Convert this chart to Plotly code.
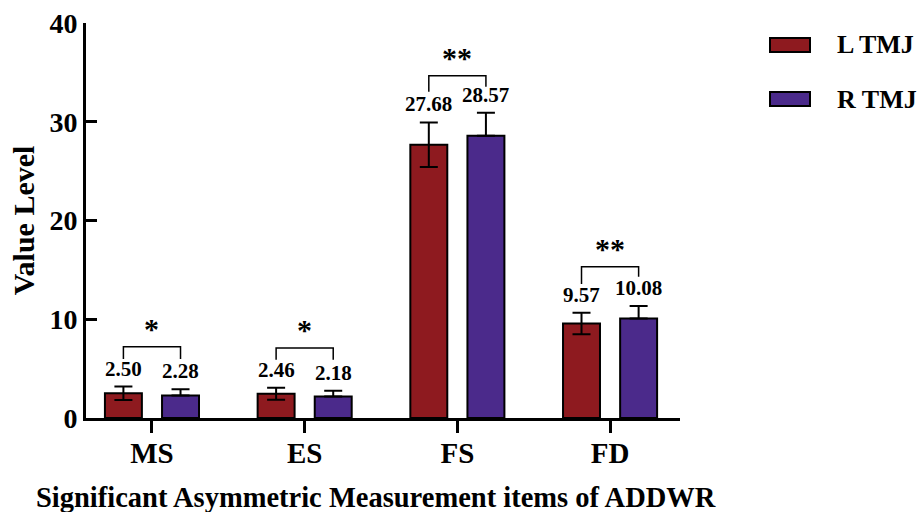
import plotly.graph_objects as go

categories = ["MS", "ES", "FS", "FD"]
l_tmj = [2.50, 2.46, 27.68, 9.57]
r_tmj = [2.28, 2.18, 28.57, 10.08]
l_err = [0.68, 0.60, 2.25, 1.10]
r_err = [0.63, 0.58, 2.35, 1.26]
sig_labels = ["*", "*", "**", "**"]
bracket_top = [7.22, 7.10, 34.66, 15.32]
bracket_leg_l = [5.97, 5.90, 33.04, 13.57]
bracket_leg_r = [5.97, 5.90, 33.55, 14.31]
y_ticks = [0, 10, 20, 30, 40]
series_names = ["L TMJ", "R TMJ"]

RED = "#8E1A1F"
PURPLE = "#4B2A8B"
FONT = "Liberation Serif"
BW = 0.242
OFF = 0.187

fig = go.Figure()
fig.add_trace(go.Bar(
    x=categories, y=l_tmj, name=series_names[0], width=BW, offset=-OFF - BW / 2,
    marker=dict(color=RED, line=dict(color="black", width=2)),
    error_y=dict(type="data", array=l_err, symmetric=True, color="black", thickness=2, width=9),
    showlegend=False))
fig.add_trace(go.Bar(
    x=categories, y=r_tmj, name=series_names[1], width=BW, offset=OFF - BW / 2,
    marker=dict(color=PURPLE, line=dict(color="black", width=2)),
    error_y=dict(type="data", array=r_err, arrayminus=[0] * len(r_err), symmetric=False,
                 color="black", thickness=2, width=9),
    showlegend=False))

annotations = []
shapes = []
for i, c in enumerate(categories):
    xl = i - OFF
    xr = i + OFF
    annotations.append(dict(x=xl, y=l_tmj[i] + l_err[i], xref="x", yref="y", text=f"{l_tmj[i]:.2f}",
                            showarrow=False, yanchor="bottom", yshift=4,
                            font=dict(family=FONT, size=21, color="black", weight="bold")))
    annotations.append(dict(x=xr, y=r_tmj[i] + r_err[i], xref="x", yref="y", text=f"{r_tmj[i]:.2f}",
                            showarrow=False, yanchor="bottom", yshift=4,
                            font=dict(family=FONT, size=21, color="black", weight="bold")))
    shapes.append(dict(type="path", xref="x", yref="y",
                       path=f"M {xl} {bracket_leg_l[i]} L {xl} {bracket_top[i]} L {xr} {bracket_top[i]} L {xr} {bracket_leg_r[i]}",
                       line=dict(color="black", width=1.5)))
    annotations.append(dict(x=i, y=bracket_top[i], xref="x", yref="y", text=sig_labels[i],
                            showarrow=False, yanchor="bottom", yshift=0,
                            font=dict(family=FONT, size=30, color="black", weight="bold")))

# legend drawn manually
leg_colors = [RED, PURPLE]
leg_y = [45, 99]
for name, col, py in zip(series_names, leg_colors, leg_y):
    y0 = 1 - (py - 7 - 23) / 395
    y1 = 1 - (py + 7 - 23) / 395
    shapes.append(dict(type="rect", xref="paper", yref="paper",
                       x0=(770 - 86) / 594, x1=(810 - 86) / 594, y0=y1, y1=y0,
                       fillcolor=col, line=dict(color="black", width=2)))
    annotations.append(dict(x=(835 - 86) / 594, y=1 - (py - 23) / 395, xref="paper", yref="paper",
                            text=name, showarrow=False, xanchor="left", yanchor="middle",
                            font=dict(family=FONT, size=26, color="black", weight="bold")))

# x-axis title as a centred annotation below the axis
annotations.append(dict(x=(376 - 86) / 594, y=-(497 - 418) / 395, xref="paper", yref="paper",
                        text="Significant Asymmetric Measurement items of ADDWR", showarrow=False,
                        xanchor="center", yanchor="middle",
                        font=dict(family=FONT, size=28.5, color="black", weight="bold")))

fig.update_layout(
    width=920, height=512,
    margin=dict(l=86, r=240, t=23, b=94),
    paper_bgcolor="white", plot_bgcolor="white",
    barmode="overlay",
    annotations=annotations, shapes=shapes,
    xaxis=dict(
        range=[-0.432, 3.458], showline=True, linecolor="black", linewidth=3,
        ticks="outside", ticklen=12, tickwidth=3, tickcolor="black",
        ticklabelstandoff=-5, automargin=False,
        tickfont=dict(family=FONT, size=29, color="black", weight="bold"),
        showgrid=False, zeroline=False),
    yaxis=dict(
        range=[0, 40], tickvals=y_ticks, showline=True, linecolor="black", linewidth=3,
        ticks="inside", ticklen=11, tickwidth=3, tickcolor="black", automargin=False,
        tickfont=dict(family=FONT, size=28, color="black", weight="bold"),
        title=dict(text="Value Level", standoff=6,
                   font=dict(family=FONT, size=30, color="black", weight="bold")),
        showgrid=False, zeroline=False),
)

fig.write_html("out.html", config={"displayModeBar": False},
               post_script="document.body.style.margin='0';document.body.style.overflow='hidden';")
